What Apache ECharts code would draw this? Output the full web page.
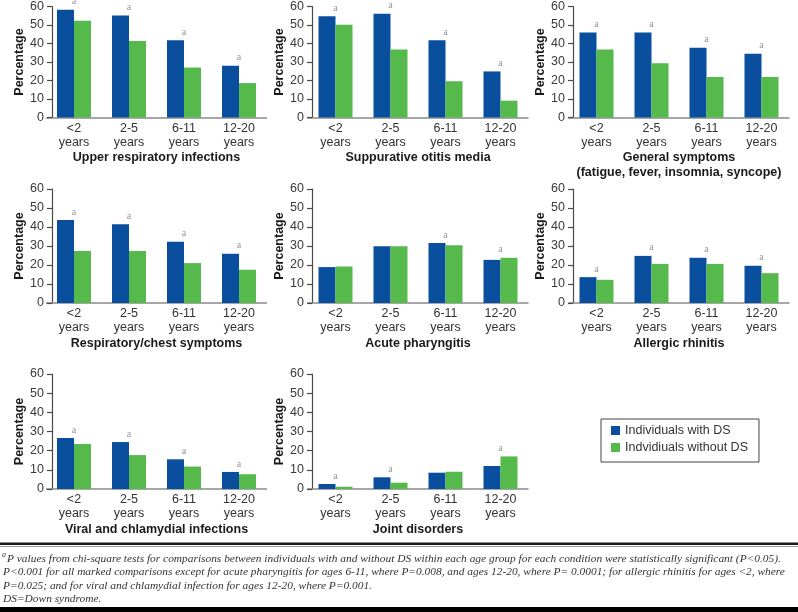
<!DOCTYPE html>
<html>
<head>
<meta charset="utf-8">
<script src="https://cdn.jsdelivr.net/npm/echarts@6/dist/echarts.min.js"></script>
<style>
  html, body { margin: 0; padding: 0; background: #fff; }
  #chart { width: 798px; height: 612px; }
</style>
</head>
<body>
<div id="chart"></div>
<script>
// ---------- data ----------
const categories = ['<2\nyears', '2-5\nyears', '6-11\nyears', '12-20\nyears'];
const seriesNames = ['Individuals with DS', 'Indvidiuals without DS'];
const panelTitles = [
  'Upper respiratory infections',
  'Suppurative otitis media',
  'General symptoms\n(fatigue, fever, insomnia, syncope)',
  'Respiratory/chest symptoms',
  'Acute pharyngitis',
  'Allergic rhinitis',
  'Viral and chlamydial infections',
  'Joint disorders'
];
const yTicks = [0, 10, 20, 30, 40, 50, 60];

const upperRespWith    = [58.2, 55.1, 41.8, 28.0];
const upperRespWithout = [52.3, 41.4, 27.0, 18.6];
const upperRespSig     = [1, 1, 1, 1];

const otitisWith    = [54.7, 56.1, 41.8, 24.9];
const otitisWithout = [50.2, 36.8, 19.6, 9.1];
const otitisSig     = [1, 1, 1, 1];

const generalWith    = [45.9, 45.9, 37.7, 34.4];
const generalWithout = [36.7, 29.3, 21.9, 21.9];
const generalSig     = [1, 1, 1, 1];

const chestWith    = [43.7, 41.4, 32.2, 25.9];
const chestWithout = [27.4, 27.4, 21.0, 17.5];
const chestSig     = [1, 1, 1, 1];

const pharyngitisWith    = [18.9, 29.9, 31.6, 22.7];
const pharyngitisWithout = [19.2, 29.9, 30.4, 23.8];
const pharyngitisSig     = [0, 0, 1, 1];

const rhinitisWith    = [13.6, 24.8, 23.8, 19.6];
const rhinitisWithout = [12.2, 20.6, 20.6, 15.7];
const rhinitisSig     = [1, 1, 1, 1];

const viralWith    = [26.6, 24.5, 15.5, 8.9];
const viralWithout = [23.5, 17.7, 11.7, 7.7];
const viralSig     = [1, 1, 1, 1];

const jointWith    = [2.6, 6.1, 8.5, 12.0];
const jointWithout = [1.2, 3.3, 9.0, 17.0];
const jointSig     = [1, 1, 0, 1];

const footnoteLines = [
  'P values from chi-square tests for comparisons between individuals with and without DS within each age group for each condition were statistically significant (P<0.05).',
  'P<0.001 for all marked comparisons except for acute pharyngitis for ages 6-11, where P=0.008, and ages 12-20, where P= 0.0001; for allergic rhinitis for ages <2, where',
  'P=0.025; and for viral and chlamydial infection for ages 12-20, where P=0.001.',
  'DS=Down syndrome.'
];

const panels = [
  [upperRespWith, upperRespWithout, upperRespSig],
  [otitisWith, otitisWithout, otitisSig],
  [generalWith, generalWithout, generalSig],
  [chestWith, chestWithout, chestSig],
  [pharyngitisWith, pharyngitisWithout, pharyngitisSig],
  [rhinitisWith, rhinitisWithout, rhinitisSig],
  [viralWith, viralWithout, viralSig],
  [jointWith, jointWithout, jointSig]
];

// ---------- layout ----------
const colLeft = [46.5, 308, 569];
const colYOffset = [-5.5, -4, -4];
const rowTop = [4.5, 189, 374];
const rowHeight = [113, 114, 115];
const gridWidth = 220;
const blue = '#0a4f9d';
const green = '#55b94b';
const sansFont = '"Liberation Sans", Arial, sans-serif';
const serifFont = '"Liberation Serif", "DejaVu Serif", serif';

const grids = [], xAxes = [], yAxes = [], series = [];
panels.forEach((p, i) => {
  const col = i % 3, row = Math.floor(i / 3);
  grids.push({ left: colLeft[col], top: rowTop[row], width: gridWidth, height: rowHeight[row] });
  xAxes.push({
    type: 'category', gridIndex: i, data: categories,
    axisLine: { show: true, lineStyle: { color: '#8a8a8a', width: 1.5 } },
    axisTick: { show: false },
    axisLabel: { interval: 0, fontSize: 12.5, lineHeight: 14, color: '#333', margin: 4, fontFamily: sansFont },
    name: panelTitles[i], nameLocation: 'middle', nameGap: 32,
    nameTextStyle: { fontWeight: 'bold', fontSize: 12.5, lineHeight: 15, color: '#1a1a1a', fontFamily: sansFont }
  });
  yAxes.push({
    type: 'value', gridIndex: i, min: yTicks[0], max: yTicks[yTicks.length - 1], interval: 10,
    offset: colYOffset[col],
    axisLine: { show: true, lineStyle: { color: '#4a4a4a', width: 1.2 } },
    axisTick: { show: true, length: 5, lineStyle: { color: '#4a4a4a', width: 1.2 } },
    splitLine: { show: false },
    axisLabel: { fontSize: 12.5, color: '#3a3a3a', margin: 8, fontFamily: sansFont },
    name: 'Percentage', nameLocation: 'middle', nameGap: 26,
    nameTextStyle: { fontWeight: 'bold', fontSize: 12.5, color: '#1a1a1a', fontFamily: sansFont }
  });
  series.push({
    type: 'bar', name: seriesNames[0], xAxisIndex: i, yAxisIndex: i,
    data: p[0], barWidth: 17, barGap: '0%', itemStyle: { color: blue }
  });
  series.push({
    type: 'bar', name: seriesNames[1], xAxisIndex: i, yAxisIndex: i,
    data: p[1], barWidth: 17, barGap: '0%', itemStyle: { color: green }
  });
  series.push({
    type: 'scatter', name: 'sig' + i, xAxisIndex: i, yAxisIndex: i, silent: true,
    symbolSize: 0.1, itemStyle: { color: 'rgba(0,0,0,0)' },
    data: p[2].map((s, j) => s ? Math.max(p[0][j], p[1][j]) : '-'),
    label: { show: true, position: 'top', distance: 3, formatter: 'a',
      fontSize: 10, color: '#7a7a7a', fontFamily: serifFont }
  });
});

const graphic = [
  { type: 'rect', shape: { x: 0, y: 542.5, width: 798, height: 2.5 }, style: { fill: '#1a1a1a' } },
  { type: 'rect', shape: { x: 0, y: 546, width: 798, height: 1 }, style: { fill: '#999' } },
  { type: 'rect', shape: { x: 0, y: 607, width: 798, height: 5 }, style: { fill: '#000' } },
  { type: 'text', x: 2, y: 554.5, style: { text: 'a', fontSize: 8, fontStyle: 'italic', fontFamily: serifFont, fill: '#333', verticalAlign: 'middle' } }
];
const footY = [558.5, 572, 585.5, 599];
footnoteLines.forEach((t, k) => {
  graphic.push({ type: 'text', x: k === 0 ? 7 : 3, y: footY[k],
    style: { text: t, fontSize: 11.4, fontStyle: 'italic', fontFamily: serifFont, fill: '#333', verticalAlign: 'middle' } });
});

const chart = echarts.init(document.getElementById('chart'));
chart.setOption({
  animation: false,
  backgroundColor: '#fff',
  grid: grids,
  xAxis: xAxes,
  yAxis: yAxes,
  series: series,
  legend: {
    data: seriesNames, orient: 'vertical', left: 601, top: 419,
    itemWidth: 9, itemHeight: 9, itemGap: 4, icon: 'rect',
    padding: [5, 11, 8, 10], borderColor: '#444', borderWidth: 1,
    textStyle: { fontSize: 12.5, color: '#333', fontFamily: sansFont }
  },
  graphic: graphic
});
</script>
</body>
</html>
